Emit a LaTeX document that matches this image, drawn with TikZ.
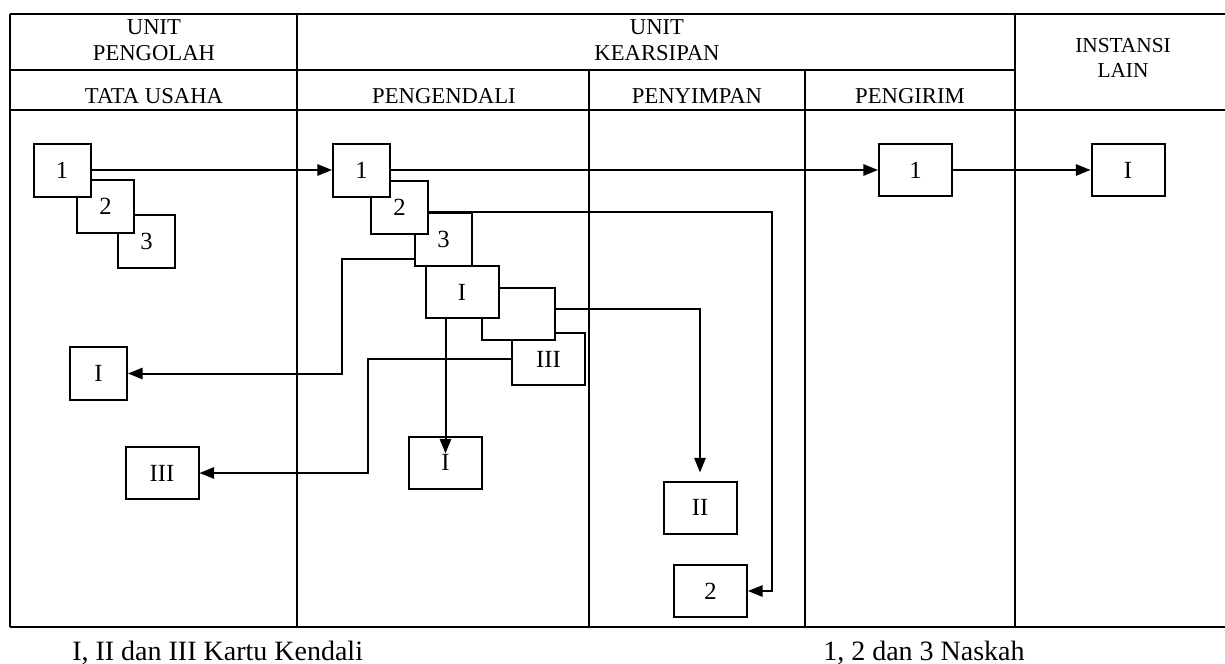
\documentclass[tikz,border=0pt]{standalone}
\usepackage{fontspec}
\setmainfont{Liberation Serif}
\usetikzlibrary{arrows.meta,calc}
\begin{document}
\begin{tikzpicture}[x=0.75pt,y=-0.75pt,
  frame/.style={line width=1.4pt},
  card/.style={draw,fill=white,line width=1.5pt,inner sep=0pt,minimum width=42.75pt,minimum height=39.75pt,font=\fontsize{18.5}{20}\selectfont},
  wide/.style={card,minimum width=54.75pt,minimum height=39pt},
  conn/.style={line width=1.5pt},
  arr/.style={conn,-{Triangle[length=11pt,width=8.5pt]}},
  head/.style={font=\fontsize{17}{19.5}\selectfont,align=center,inner sep=0pt},
  legendtxt/.style={font=\fontsize{21}{23}\selectfont,anchor=base west,inner sep=0pt}]
\useasboundingbox (0,0) rectangle (1225,664);
% frame
\draw[frame] (10,14) -- (1225,14);
\draw[frame] (10,70) -- (1015,70);
\draw[frame] (10,110) -- (1225,110);
\draw[frame] (10,627) -- (1225,627);
\draw[frame] (10,14) -- (10,627);
\draw[frame] (297,14) -- (297,627);
\draw[frame] (589,70) -- (589,627);
\draw[frame] (805,70) -- (805,627);
\draw[frame] (1015,14) -- (1015,627);
% headers
\node[head] (hUP) at (154,40) {UNIT\\PENGOLAH};
\node[head] (hUK) at (657,40) {UNIT\\KEARSIPAN};
\node[head,font=\fontsize{16}{18.5}\selectfont] (hIL) at (1123,58) {INSTANSI\\LAIN};
\node[head] (hTU) at (154,96) {TATA USAHA};
\node[head] (hPE) at (444,96) {PENGENDALI};
\node[head] (hPY) at (697,96) {PENYIMPAN};
\node[head] (hPG) at (910,96) {PENGIRIM};
% boxes: tata usaha
\node[card] (tb3) at (146.5,241) {3};
\node[card] (tb2) at (105.5,206.5) {2};
\node[card] (tb1) at (62,170) {1};
% boxes: pengendali
\node[wide] (pc3) at (548.5,359) {III};
\node[wide] (pc2) at (518,314) {};
\node[wide] (pc1) at (462,292) {I};
\node[card] (pb3) at (443.5,239.5) {3};
\node[card] (pb2) at (399.5,207.5) {2};
\node[card] (pb1) at (361.5,170) {1};
\node[card] (tI) at (98.5,373.5) {I};
\node[wide] (tIII) at (162,473) {III};
\node[wide] (pI) at (445.5,462.5) {I};
\node[wide] (sII) at (700,507.5) {II};
\node[wide] (s2) at (710.5,591) {2};
\node[wide] (g1) at (915.5,170) {1};
\node[wide] (i1) at (1128,170) {I};
% connectors
\draw[arr] (tb1.east) -- (pb1.west);
\draw[arr] (pb1.east) -- (g1.west);
\draw[arr] (g1.east) -- (i1.west);
\draw[arr] ($(pb3.south west)+(0,-8)$) -| ($(tI.east)+(214,0)$) -- (tI.east);
\draw[arr] (pc3.west) -| ($(tIII.east)+(168,0)$) -- (tIII.east);
\draw[arr] ($(pc2.east)+(0,-5)$) -| ($(sII.north)+(0,-8)$);
\draw[arr] (pI.north |- pc1.south) -- ($(pI.north)+(0,18)$);
\draw[arr] (pb2.east |- pb3.north) -| ($(s2.east)+(24,0)$) -- (s2.east);
% captions
\node[legendtxt] (k1) at (72,660) {I, II dan III Kartu Kendali};
\node[legendtxt] (k2) at (823,660) {1, 2 dan 3 Naskah};
\end{tikzpicture}
\end{document}
